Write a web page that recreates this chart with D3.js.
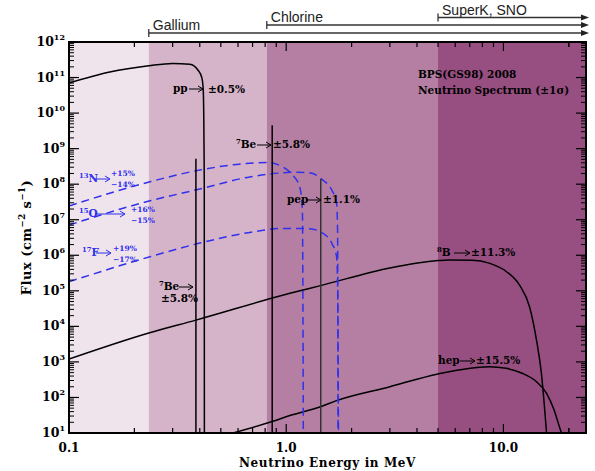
<!DOCTYPE html>
<html>
<head>
<meta charset="utf-8">
<script src="https://cdn.jsdelivr.net/npm/d3@7"></script>
<style>
  body { margin: 0; background: #fff; }
  svg { display: block; }
</style>
</head>
<body>
<svg id="chart" width="595" height="471"></svg>
<script>
// ---- Detector thresholds (MeV) ----
const detectorNames = ["Gallium", "Chlorine", "SuperK, SNO"];
const detectorThresholds = [0.233, 0.814, 5.0];
const bandColors = ["#efe3ec", "#d5b3c9", "#b47fa3", "#974e80"];

// ---- Continuum spectra: [energy MeV, flux cm^-2 s^-1 MeV^-1] ----
const ppSpectrum = [
  [0.1, 7.0e10], [0.154, 1.43e11], [0.233, 2.15e11], [0.30, 2.5e11],
  [0.36, 2.36e11], [0.392, 1.63e11], [0.409, 9.8e10], [0.415, 4.5e10],
  [0.4195, 1e8], [0.420, 10]
];
const b8Spectrum = [
  [0.1, 1.2e3], [0.233, 6.5e3], [0.384, 1.5e4], [1.04, 8.5e4], [1.44, 1.4e5],
  [3.0, 4.4e5], [5.0, 7.1e5], [5.6, 7.4e5], [7.2, 7.3e5], [8.6, 6.0e5],
  [10.3, 3.5e5], [11.85, 1.46e5], [13.2, 3.5e4], [14.2, 4.1e3], [14.95, 490],
  [15.4, 70], [15.8, 10]
];
const hepSpectrum = [
  [0.569, 10], [0.86, 21], [1.04, 31], [1.44, 55], [1.69, 80], [3.0, 200],
  [5.0, 460], [8.6, 730], [10.3, 660], [12.2, 480], [14.2, 277], [15.8, 131],
  [17.1, 45], [18.1, 15], [18.5, 10]
];
const n13Spectrum = [
  [0.1, 2.44e7], [0.236, 1.17e8], [0.40, 2.5e8], [0.68, 3.9e8], [0.814, 4.1e8],
  [0.96, 3.1e8], [1.07, 1.8e8], [1.153, 8.5e7], [1.187, 2e7], [1.199, 10]
];
const o15Spectrum = [
  [0.1, 7.1e6], [0.236, 3.4e7], [0.40, 7.3e7], [0.68, 1.6e8], [1.117, 2.16e8],
  [1.28, 2.1e8], [1.47, 1.32e8], [1.62, 6.9e7], [1.706, 2.9e7], [1.724, 5e6],
  [1.732, 10]
];
const f17Spectrum = [
  [0.1, 1.8e5], [0.236, 9.1e5], [0.40, 2.2e6], [0.68, 4.4e6], [0.96, 5.7e6],
  [1.28, 5.6e6], [1.47, 4.2e6], [1.62, 2.2e6], [1.706, 9.1e5], [1.724, 1.5e5],
  [1.740, 10]
];

// ---- Line spectra ----
const lineEnergies = [0.384, 0.862, 1.442];
const lineFluxes = [5.2e8, 4.56e9, 1.41e8];
const lineColors = ["#000", "#000", "#333"];

// ---- Axis ticks ----
const xTickValues = [0.1, 1, 10];
const xTickLabels = ["0.1", "1.0", "10.0"];
const yTickExponents = [1, 2, 3, 4, 5, 6, 7, 8, 9, 10, 11, 12];

const svg = d3.select("#chart");
const W = 595, H = 471;
const plot = { left: 69, right: 586, top: 42, bottom: 433 };

const x = d3.scaleLog().domain([0.1, 24]).range([plot.left, plot.right]);
const y = d3.scaleLog().domain([10, 1e12]).range([plot.bottom, plot.top]);

const SERIF = "'DejaVu Serif', serif";
const SANS = "'Liberation Sans', Arial, sans-serif";
const BLUE = "#3030ee";

// ---- Background bands ----
const bandEdges = [0.1, ...detectorThresholds, 24];
svg.append("g").selectAll("rect")
  .data(bandColors)
  .join("rect")
  .attr("x", (d, i) => x(bandEdges[i]))
  .attr("y", plot.top)
  .attr("width", (d, i) => x(bandEdges[i + 1]) - x(bandEdges[i]))
  .attr("height", plot.bottom - plot.top)
  .attr("fill", d => d);

// ---- Clip ----
svg.append("defs").append("clipPath").attr("id", "plotclip")
  .append("rect")
  .attr("x", plot.left).attr("y", plot.top)
  .attr("width", plot.right - plot.left).attr("height", plot.bottom - plot.top);

const g = svg.append("g").attr("clip-path", "url(#plotclip)");

const lineGen = d3.line()
  .x(d => x(d[0]))
  .y(d => y(d[1]))
  .curve(d3.curveMonotoneX);

// continuum (solid, black)
[ppSpectrum, b8Spectrum, hepSpectrum].forEach(s => {
  g.append("path").attr("d", lineGen(s))
    .attr("fill", "none").attr("stroke", "#000").attr("stroke-width", 1.5);
});

// CNO (dashed, blue)
[n13Spectrum, o15Spectrum, f17Spectrum].forEach(s => {
  g.append("path").attr("d", lineGen(s))
    .attr("fill", "none").attr("stroke", BLUE).attr("stroke-width", 1.5)
    .attr("stroke-dasharray", "8,5");
});

// line sources
g.selectAll("line.src")
  .data(lineEnergies)
  .join("line")
  .attr("class", "src")
  .attr("x1", d => x(d)).attr("x2", d => x(d))
  .attr("y1", plot.bottom)
  .attr("y2", (d, i) => y(lineFluxes[i]))
  .attr("stroke", (d, i) => lineColors[i])
  .attr("stroke-width", 1.5);

// ---- Axes ticks ----
const axes = svg.append("g").attr("stroke", "#000");
const xMinor = [];
for (const dec of [0.1, 1, 10]) {
  for (let k = 2; k <= 9; k++) {
    const v = k * dec;
    if (v < 24) xMinor.push(v);
  }
}
xMinor.push(20);
const xMajorTicks = [0.1, 1, 10];
[plot.bottom, plot.top].forEach((yy, side) => {
  const dir = side === 0 ? -1 : 1;
  xMinor.forEach(v => {
    axes.append("line").attr("x1", x(v)).attr("x2", x(v))
      .attr("y1", yy).attr("y2", yy + dir * 5).attr("stroke-width", 1.2);
  });
  xMajorTicks.forEach(v => {
    axes.append("line").attr("x1", x(v)).attr("x2", x(v))
      .attr("y1", yy).attr("y2", yy + dir * 9).attr("stroke-width", 1.2);
  });
});
[plot.left, plot.right].forEach((xx, side) => {
  const dir = side === 0 ? 1 : -1;
  yTickExponents.forEach(e => {
    const v = Math.pow(10, e);
    axes.append("line").attr("x1", xx).attr("x2", xx + dir * 10)
      .attr("y1", y(v)).attr("y2", y(v)).attr("stroke-width", 1.2);
    if (e < 12) {
      for (let k = 2; k <= 9; k++) {
        const vv = k * v;
        axes.append("line").attr("x1", xx).attr("x2", xx + dir * 5)
          .attr("y1", y(vv)).attr("y2", y(vv)).attr("stroke-width", 1);
      }
    }
  });
});

// frame
svg.append("rect")
  .attr("x", plot.left).attr("y", plot.top)
  .attr("width", plot.right - plot.left).attr("height", plot.bottom - plot.top)
  .attr("fill", "none").attr("stroke", "#000").attr("stroke-width", 2);

// x tick labels
svg.append("g").selectAll("text")
  .data(xTickValues)
  .join("text")
  .attr("x", d => x(d))
  .attr("y", 452)
  .attr("text-anchor", "middle")
  .attr("font-family", SERIF).attr("font-weight", "bold").attr("font-size", 12)
  .text((d, i) => xTickLabels[i]);

// y tick labels: 10^n
const yl = svg.append("g");
yTickExponents.forEach(e => {
  const t = yl.append("text")
    .attr("x", 65).attr("y", y(Math.pow(10, e)) + 4)
    .attr("text-anchor", "end")
    .attr("font-family", SERIF).attr("font-weight", "bold").attr("font-size", 12.5);
  t.append("tspan").text("10");
  t.append("tspan").attr("dy", -6).attr("font-size", 8).text(String(e));
});

// axis titles
svg.append("text")
  .attr("x", (plot.left + plot.right) / 2).attr("y", 467)
  .attr("text-anchor", "middle")
  .attr("font-family", SERIF).attr("font-weight", "bold").attr("font-size", 12)
  .attr("letter-spacing", 0.6)
  .text("Neutrino Energy in MeV");

const yt = svg.append("text")
  .attr("transform", `translate(31, ${(plot.top + plot.bottom) / 2}) rotate(-90)`)
  .attr("text-anchor", "middle")
  .attr("font-family", SERIF).attr("font-weight", "bold").attr("font-size", 13)
  .attr("letter-spacing", 0.5);
yt.append("tspan").text("Flux (cm");
yt.append("tspan").attr("dy", -6).attr("font-size", 8.5).text("−2");
yt.append("tspan").attr("dy", 6).text(" s");
yt.append("tspan").attr("dy", -6).attr("font-size", 8.5).text("−1");
yt.append("tspan").attr("dy", 6).text(")");

// ---- Detector threshold arrows ----
const bracketY = [33, 25, 17.5];
const labelY = [30, 22, 14.5];
const tip = 589;
detectorThresholds.forEach((t, i) => {
  const bx = x(t), by = bracketY[i];
  svg.append("line").attr("x1", bx).attr("x2", tip - 6).attr("y1", by).attr("y2", by)
    .attr("stroke", "#333").attr("stroke-width", 1.3);
  svg.append("line").attr("x1", bx).attr("x2", bx).attr("y1", by - 4).attr("y2", by + 4)
    .attr("stroke", "#333").attr("stroke-width", 1.3);
  svg.append("path")
    .attr("d", `M${tip},${by} L${tip - 8},${by - 3} L${tip - 8},${by + 3} Z`)
    .attr("fill", "#222");
  svg.append("text")
    .attr("x", bx + 4).attr("y", labelY[i])
    .attr("font-family", SANS).attr("font-size", 14).attr("fill", "#222")
    .text(detectorNames[i]);
});

// ---- Annotation helpers ----
function arrow(x1, yy, x2, color) {
  svg.append("line").attr("x1", x1).attr("x2", x2).attr("y1", yy).attr("y2", yy)
    .attr("stroke", color).attr("stroke-width", 1);
  svg.append("path")
    .attr("d", `M${x2 - 5},${yy - 3} L${x2},${yy} L${x2 - 5},${yy + 3}`)
    .attr("fill", "none").attr("stroke", color).attr("stroke-width", 1);
}
function label(xx, yy, parts, size, color, anchor) {
  const t = svg.append("text")
    .attr("x", xx).attr("y", yy)
    .attr("font-family", SERIF).attr("font-weight", "bold")
    .attr("font-size", size).attr("fill", color || "#000")
    .attr("text-anchor", anchor || "start");
  let shifted = false;
  parts.forEach(p => {
    const s = t.append("tspan").text(p.t);
    if (p.sup) {
      s.attr("font-size", size * 0.65).attr("dy", shifted ? 0 : -size * 0.4);
      shifted = true;
    } else if (shifted) {
      s.attr("dy", size * 0.4);
      shifted = false;
    }
  });
  return t;
}

// solid sources
label(173, 92, [{ t: "pp" }], 10.5);
arrow(189, 89, 203, "#000");
label(208, 93, [{ t: "±0.5%" }], 10.5);

label(236, 148, [{ t: "7", sup: true }, { t: "Be" }], 10.5);
arrow(257, 145, 271, "#000");
label(273, 148, [{ t: "±5.8%" }], 10.5);

label(287, 203, [{ t: "pep" }], 10.5);
arrow(307, 200, 321, "#000");
label(323, 203, [{ t: "±1.1%" }], 10.5);

label(159, 290, [{ t: "7", sup: true }, { t: "Be" }], 10.5);
arrow(179, 287, 193, "#000");
label(161, 302, [{ t: "±5.8%" }], 10.5);

label(437, 256, [{ t: "8", sup: true }, { t: "B" }], 10.5);
arrow(454, 253, 470, "#000");
label(471, 256, [{ t: "±11.3%" }], 10.5);

label(438, 364, [{ t: "hep" }], 10.5);
arrow(460, 361, 475, "#000");
label(476, 364, [{ t: "±15.5%" }], 10.5);

label(418, 78, [{ t: "BPS(GS98) 2008" }], 10.5);
label(418, 94, [{ t: "Neutrino Spectrum (±1" }, { t: "σ" }, { t: ")" }], 10.5);

// CNO sources (blue)
label(79, 182, [{ t: "13", sup: true }, { t: "N" }], 10.5, BLUE);
arrow(95, 179, 110, BLUE);
label(111, 176, [{ t: "+15%" }], 7.5, BLUE);
label(111, 187, [{ t: "−14%" }], 7.5, BLUE);

label(79, 217, [{ t: "15", sup: true }, { t: "O" }], 10.5, BLUE);
arrow(95, 214, 125, BLUE);
label(131, 212, [{ t: "+16%" }], 7.5, BLUE);
label(131, 223, [{ t: "−15%" }], 7.5, BLUE);

label(82, 256, [{ t: "17", sup: true }, { t: "F" }], 10.5, BLUE);
arrow(96, 253, 111, BLUE);
label(113, 251, [{ t: "+19%" }], 7.5, BLUE);
label(113, 262, [{ t: "−17%" }], 7.5, BLUE);
</script>
</body>
</html>
